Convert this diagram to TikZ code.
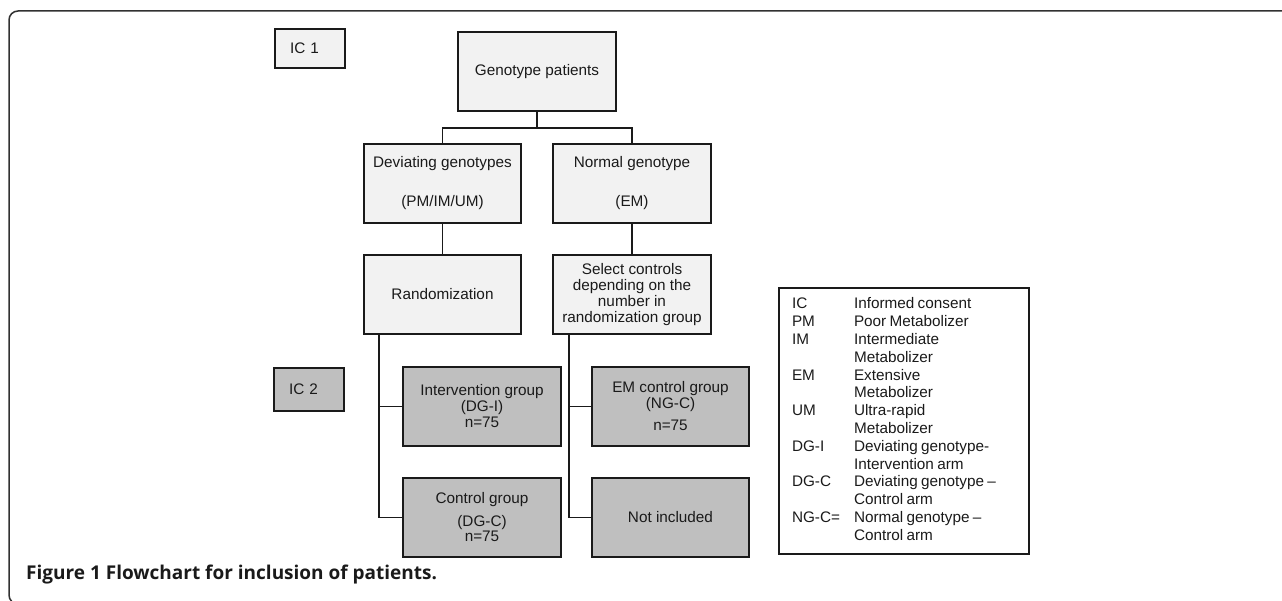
\documentclass[tikz,border=0pt]{standalone}
\usepackage{fontspec}
\setmainfont{Liberation Sans}
\newfontfamily\capfont{Open Sans}
\definecolor{lightbox}{HTML}{F2F2F2}
\definecolor{darkbox}{HTML}{BFBFBF}
\definecolor{ink}{HTML}{1A1A1A}
\begin{document}
\begin{tikzpicture}[x=1pt,y=-1pt,
  box/.style={draw=ink, line width=1.9pt, fill=lightbox, minimum width=157pt, minimum height=79pt,
    inner sep=0pt, align=center, text=ink, font=\fontsize{15.3}{16}\selectfont},
  dbox/.style={box, fill=darkbox, minimum width=158pt},
  icbox/.style={draw=ink, line width=1.9pt, text width=40pt, inner xsep=15pt, inner ysep=0pt,
    align=left, text=ink, font=\fontsize{15.3}{16}\selectfont},
  link/.style={draw=ink, line width=1.9pt}]
\useasboundingbox (0,0) rectangle (1282,601);
\begin{scope}
\clip (0,0) rectangle (1282,601);
\draw[line width=1.5pt, draw=ink!90, rounded corners=9pt] (9,11) rectangle (1300,604);
\end{scope}

\node[icbox, fill=lightbox, minimum height=39pt] (ic1) at (310,48.5) {IC 1};
\node[icbox, fill=darkbox, minimum height=43pt] (ic2) at (309,389.5) {IC 2};

\node[box, minimum width=158pt] (gen) at (537,71.5) {Genotype patients};
\node[box] (dev) at (442.5,183.5) {Deviating genotypes\\[23pt](PM/IM/UM)};
\node[box, minimum width=158pt] (norm) at (632,183.5) {Normal genotype\\[23pt](EM)};
\node[box] (rand) at (442.5,294.5) {Randomization};
\node[box, minimum width=158pt] (sel) at (632,294.5) {Select controls\\depending on the\\number in\\randomization group};
\node[dbox] (int) at (482,406.5) {Intervention group\\(DG-I)\\n=75};
\node[dbox] (ctrl) at (482,517.5) {Control group\\[7pt](DG-C)\\[-1pt]n=75};
\node[dbox, minimum width=157pt] (emc) at (670.5,406.5) {EM control group\\(NG-C)\\[6pt]n=75};
\node[dbox, minimum width=157pt] (notinc) at (670.5,517.5) {Not included};

\draw[link] (gen.south) -- ++(0,16) coordinate (j);
\draw[link] (dev.north) |- (j) -| (norm.north);
\draw[link] (dev.south) -- (rand.north);
\draw[link] (norm.south) -- (sel.north);
\coordinate (rb) at ([xshift=16pt]rand.south west);
\draw[link] (rb) |- (ctrl.west);
\draw[link] (int.west) -- (int.west -| rb);
\coordinate (sb) at ([xshift=17pt]sel.south west);
\draw[link] (sb) |- (notinc.west);
\draw[link] (emc.west) -- (emc.west -| sb);

\node[draw=ink, line width=1.6pt, minimum width=250pt, minimum height=266pt, text width=224pt,
  inner xsep=13pt, inner ysep=0pt, align=left, text=ink] (legend) at (904,421)
  {\fontsize{15.3}{17.8}\selectfont
   \begin{tabular}{@{}p{62pt}@{}l@{}}
   IC & Informed consent\\
   PM & Poor Metabolizer\\
   IM & Intermediate\\
      & Metabolizer\\
   EM & Extensive\\
      & Metabolizer\\
   UM & Ultra-rapid\\
      & Metabolizer\\
   DG-I & Deviating genotype-\\
        & Intervention arm\\
   DG-C & Deviating genotype --\\
        & Control arm\\
   NG-C= & Normal genotype --\\
         & Control arm
   \end{tabular}};

\node[anchor=base west, inner sep=0pt, text=ink, font=\capfont\bfseries\fontsize{19}{22}\selectfont] (cap) at (26,579)
  {Figure 1 Flowchart for inclusion of patients.};
\end{tikzpicture}
\end{document}
